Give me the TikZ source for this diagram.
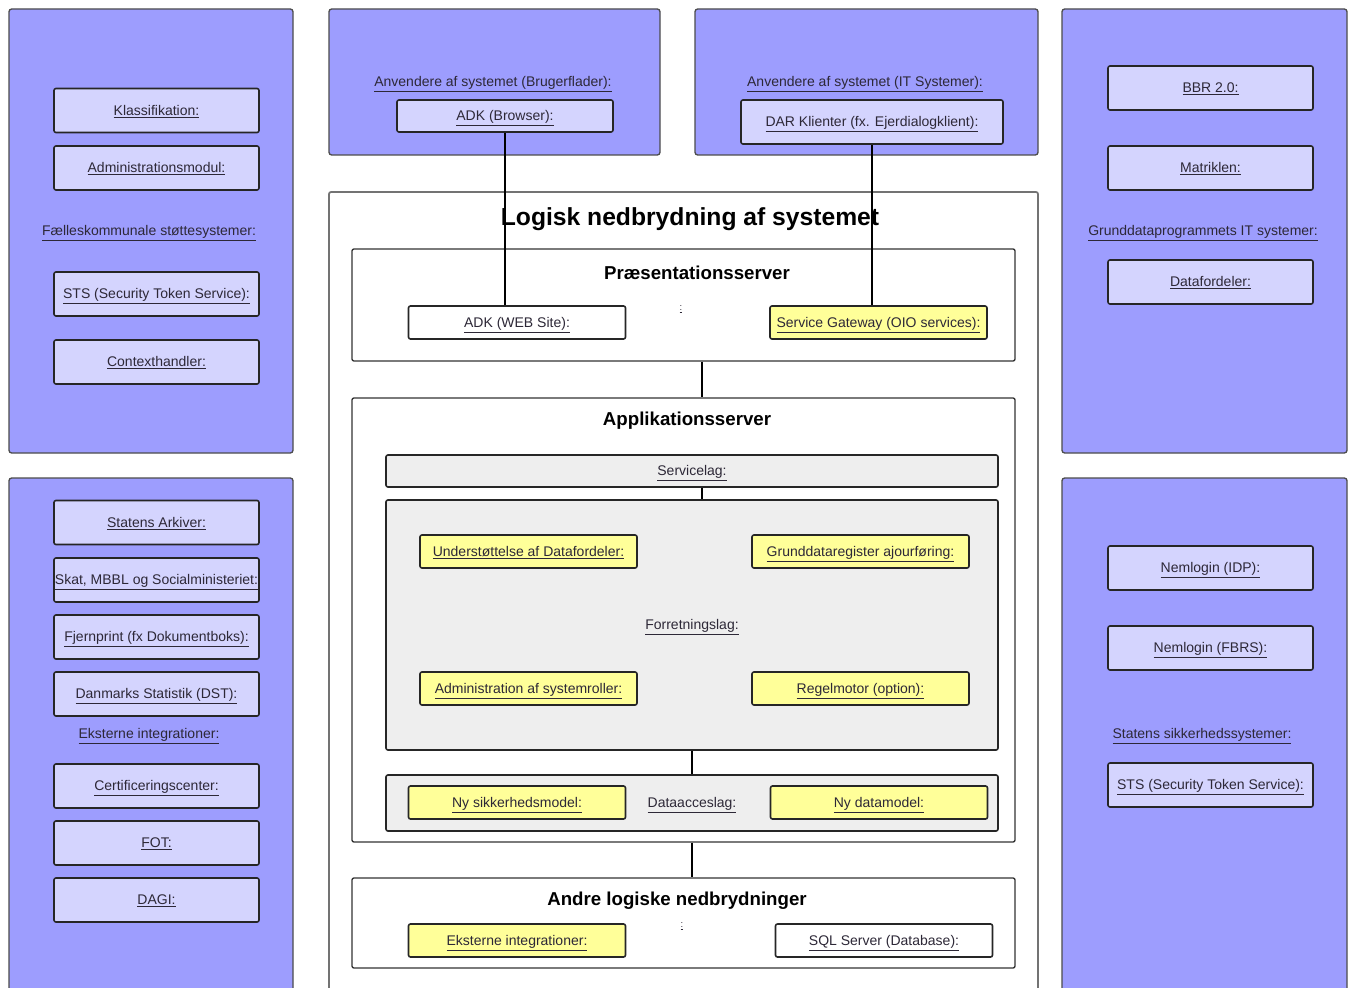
\documentclass[tikz,border=0pt]{standalone}
\usepackage{fontspec}
\setmainfont{Liberation Sans}
\usepackage{xcolor}

\definecolor{panelblue}{RGB}{157,157,254}
\definecolor{lilac}{RGB}{212,212,254}
\definecolor{notey}{RGB}{255,255,153}
\definecolor{layergray}{RGB}{238,238,238}
\definecolor{linktxt}{RGB}{45,40,55}

\newcommand{\lnk}[1]{\underline{#1}}

\tikzset{
  panel/.style={draw=black!70, fill=panelblue, rounded corners=2pt, line width=1pt},
  sysbox/.style={draw=black!85, fill=lilac, rounded corners=1.5pt, line width=1.2pt,
    minimum width=153.75pt, minimum height=33pt, inner sep=0pt, text=linktxt,
    text height=8pt, text depth=1pt, font=\fontsize{10.5}{12}\selectfont},
  modbox/.style={draw=black!85, fill=notey, rounded corners=1.5pt, line width=1.2pt,
    minimum width=162.75pt, minimum height=24.75pt, inner sep=0pt, text=linktxt,
    text height=8pt, text depth=1pt, font=\fontsize{10.5}{12}\selectfont},
  layerbox/.style={draw=black!80, fill=white, rounded corners=1.5pt, line width=1pt,
    minimum width=497.25pt, inner sep=0pt},
  graybox/.style={draw=black!85, fill=layergray, rounded corners=1.5pt, line width=1.2pt,
    minimum width=459pt, inner sep=0pt, text=linktxt,
    text height=8pt, text depth=1pt, font=\fontsize{10.5}{12}\selectfont},
  linklabel/.style={text=linktxt, inner sep=0.75pt, text height=8pt, text depth=1pt,
    font=\fontsize{10.5}{12}\selectfont},
  heading/.style={inner sep=0.75pt, font=\fontsize{14}{16}\selectfont\bfseries}
}

\begin{document}
\begin{tikzpicture}[x=0.75pt,y=0.75pt,yscale=-1,xscale=1]
    \useasboundingbox (0,0) rectangle (1349,988);

    %Shape: Rectangle [left panels]
    \draw [panel] (9,9) rectangle (293,453);
    \draw [panel] (9,478) rectangle (293,1000);
    %Shape: Rectangle [right panels]
    \draw [panel] (1062,9) rectangle (1347,453);
    \draw [panel] (1062,478) rectangle (1347,1000);
    %Shape: Rectangle [top panels]
    \draw [panel] (329,9) rectangle (660,155);
    \draw [panel] (695,9) rectangle (1038,155);
    %Shape: Rectangle [white frame]
    \draw [draw=black!55, fill=white, rounded corners=1.5pt, line width=1.3pt] (329,192) rectangle (1038,1000);

    % Fælleskommunale støttesystemer
    \node [sysbox] (klass) at (156.5,110.5) {\lnk{Klassifikation:}};
    \node [sysbox] (admmod) at (156.5,168) {\lnk{Administrationsmodul:}};
    \draw (149,231) node [linklabel] (fks) {\lnk{Fælleskommunale støttesystemer:}};
    \node [sysbox] (stsl) at (156.5,294) {\lnk{STS (Security Token Service):}};
    \node [sysbox] (ctx) at (156.5,362) {\lnk{Contexthandler:}};

    % Eksterne integrationer
    \node [sysbox] (arkiv) at (156.5,522.5) {\lnk{Statens Arkiver:}};
    \node [sysbox] (skat) at (156.5,580) {\lnk{Skat, MBBL og Socialministeriet:}};
    \node [sysbox] (fjern) at (156.5,637) {\lnk{Fjernprint (fx Dokumentboks):}};
    \node [sysbox] (dst) at (156.5,694) {\lnk{Danmarks Statistik (DST):}};
    \draw (149,734) node [linklabel] (ekst) {\lnk{Eksterne integrationer:}};
    \node [sysbox] (cert) at (156.5,786) {\lnk{Certificeringscenter:}};
    \node [sysbox] (fot) at (156.5,843) {\lnk{FOT:}};
    \node [sysbox] (dagi) at (156.5,900) {\lnk{DAGI:}};

    % Grunddataprogrammets IT systemer
    \node [sysbox] (bbr) at (1210.5,88) {\lnk{BBR 2.0:}};
    \node [sysbox] (matr) at (1210.5,168) {\lnk{Matriklen:}};
    \draw (1203,231) node [linklabel] (gdp) {\lnk{Grunddataprogrammets IT systemer:}};
    \node [sysbox] (dfd) at (1210.5,282) {\lnk{Datafordeler:}};

    % Statens sikkerhedssystemer
    \node [sysbox] (nidp) at (1210.5,568) {\lnk{Nemlogin (IDP):}};
    \node [sysbox] (nfbrs) at (1210.5,648) {\lnk{Nemlogin (FBRS):}};
    \draw (1202,734) node [linklabel] (sik) {\lnk{Statens sikkerhedssystemer:}};
    \node [sysbox] (stsr) at (1210.5,785) {\lnk{STS (Security Token Service):}};

    % Anvendere af systemet
    \draw (493,82) node [linklabel] (brug) {\lnk{Anvendere af systemet (Brugerflader):}};
    \node [sysbox, minimum width=162pt, minimum height=24pt] (adkb) at (505,116) {\lnk{ADK (Browser):}};
    \draw (865,82) node [linklabel] (itsys) {\lnk{Anvendere af systemet (IT Systemer):}};
    \node [sysbox, minimum width=196.5pt] (dar) at (872,122) {\lnk{DAR Klienter (fx. Ejerdialogklient):}};

    % Text Node
    \draw (690,219) node [inner sep=0.75pt, font=\fontsize{18.5}{20}\selectfont\bfseries] (title) {Logisk nedbrydning af systemet};

    % Præsentationsserver
    \node [layerbox, minimum height=84pt] (pres) at (683.5,305) {};
    \draw (697,273) node [heading] {Præsentationsserver};
    \node [modbox, fill=white] (adkw) at (517,322.5) {\lnk{ADK (WEB Site):}};
    \draw (681,306) node [linklabel, font=\fontsize{7}{8}\selectfont] {\lnk{:}};
    \node [modbox] (sgw) at (878.5,322.5) {\lnk{Service Gateway (OIO services):}};

    % Applikationsserver
    \node [layerbox, minimum height=333pt] (app) at (683.5,620) {};
    \draw (687,421) node [heading] {Applikationsserver};
    \node [graybox, minimum height=24pt] (svc) at (692,471) {\lnk{Servicelag:}};
    \node [graybox, minimum height=187.5pt] (forr) at (692,625) {\lnk{Forretningslag:}};
    \node [modbox] (undst) at (528.5,551.5) {\lnk{Understøttelse af Datafordeler:}};
    \node [modbox] (gdreg) at (860.5,551.5) {\lnk{Grunddataregister ajourføring:}};
    \node [modbox] (admsys) at (528.5,688.5) {\lnk{Administration af systemroller:}};
    \node [modbox] (regel) at (860.5,688.5) {\lnk{Regelmotor (option):}};
    \node [graybox, minimum height=42pt] (dacc) at (692,803) {\lnk{Dataacceslag:}};
    \node [modbox] (nysik) at (517,802.5) {\lnk{Ny sikkerhedsmodel:}};
    \node [modbox] (nydata) at (879,802.5) {\lnk{Ny datamodel:}};

    % Andre logiske nedbrydninger
    \node [layerbox, minimum height=67.5pt] (andre) at (683.5,923) {};
    \draw (677,901) node [heading] {Andre logiske nedbrydninger};
    \node [modbox] (eksint) at (517,940.5) {\lnk{Eksterne integrationer:}};
    \draw (682,923) node [linklabel, font=\fontsize{7}{8}\selectfont] {\lnk{:}};
    \node [modbox, fill=white] (sql) at (884,940.5) {\lnk{SQL Server (Database):}};

    % connectors
    \coordinate (xa) at (702,0);
    \coordinate (xb) at (692,0);
    \draw [line width=0.9pt] (adkb.south) -- (adkw.north -| adkb.south);
    \draw [line width=0.9pt] (dar.south) -- (sgw.north -| dar.south);
    \draw [line width=0.9pt] (pres.south -| xa) -- (app.north -| xa);
    \draw [line width=0.9pt] (svc.south -| xa) -- (forr.north -| xa);
    \draw [line width=0.9pt] (forr.south -| xb) -- (dacc.north -| xb);
    \draw [line width=0.9pt] (app.south -| xb) -- (andre.north -| xb);

\end{tikzpicture}
\end{document}
